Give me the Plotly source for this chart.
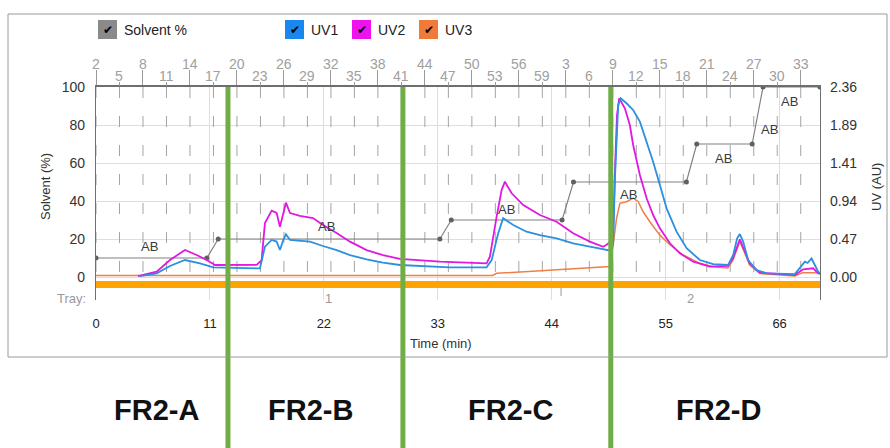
import plotly.graph_objects as go

# ---------------- data ----------------
# Solvent gradient (%), step programme
solv_t = [0, 10.7, 11.8, 33.2, 34.3, 45.0, 46.1, 57.0, 58.0, 63.35, 64.4, 69.9]
solv = [10, 10, 20, 20, 30, 30, 50, 50, 70, 70, 100, 100]

# UV1 absorbance (AU)
uv1_t = [4.25, 5.86, 7.14, 8.59, 10.04, 11.32, 15.51, 15.83, 16.31, 16.96, 17.44, 17.76,
         18.08, 18.34, 18.73, 20.66, 21.91, 23.23, 24.52, 26.13, 27.70, 29.34, 34.17,
         37.71, 38.2, 38.83, 39.31, 40.28, 41.57, 42.86, 44.47, 46.07, 47.68, 49.13,
         49.6, 49.93, 50.1, 50.42, 50.65, 51.22, 51.86, 52.51, 53.16, 53.79, 54.44,
         55.09, 56.05, 57.02, 58.3, 59.58, 61.03, 61.52, 61.90, 62.16, 62.48, 62.96,
         63.77, 64.74, 67.47, 67.95, 68.44, 68.7, 69.08, 69.4, 69.72, 69.9]
uv1 = [0.012, 0.046, 0.137, 0.211, 0.170, 0.120, 0.108, 0.108, 0.376, 0.46, 0.44, 0.335,
       0.46, 0.53, 0.46, 0.44, 0.385, 0.335, 0.273, 0.22, 0.178, 0.149, 0.12,
       0.12, 0.21, 0.543, 0.73, 0.646, 0.563, 0.52, 0.48, 0.419, 0.376, 0.335,
       0.33, 0.40, 1.226, 2.137, 2.22, 2.158, 2.075, 1.93, 1.68, 1.432, 1.143,
       0.853, 0.563, 0.357, 0.211, 0.161, 0.149, 0.273, 0.48, 0.534, 0.44, 0.211,
       0.087, 0.046, 0.037, 0.108, 0.19, 0.174, 0.232, 0.149, 0.066, 0.05]

# UV2 absorbance (AU)
uv2_t = [4.05, 5.86, 7.14, 8.59, 9.72, 10.69, 11.49, 15.51, 15.99, 16.31, 16.96, 17.44,
         17.76, 18.08, 18.34, 18.73, 19.69, 20.95, 21.91, 23.23, 24.52, 26.13, 27.70,
         29.34, 30.96, 33.2, 37.71, 38.03, 38.68, 39.16, 39.48, 40.13, 41.25, 42.86,
         44.47, 46.07, 47.68, 48.97, 49.3, 49.9, 50.14, 50.3, 50.51, 51.06, 51.54,
         51.86, 52.51, 53.16, 53.79, 54.44, 55.41, 56.37, 57.66, 59.27, 61.03, 61.5,
         62.16, 62.6, 63.1, 64.09, 67.47, 68.27, 69.24, 69.72, 69.9]
uv2 = [0.012, 0.066, 0.211, 0.335, 0.273, 0.211, 0.149, 0.15, 0.211, 0.67, 0.824, 0.795,
       0.625, 0.811, 0.923, 0.795, 0.758, 0.733, 0.646, 0.547, 0.439, 0.335, 0.273,
       0.224, 0.211, 0.19, 0.17, 0.252, 0.749, 1.08, 1.184, 1.04, 0.894, 0.77,
       0.687, 0.543, 0.439, 0.376, 0.4, 0.46, 1.45, 2.01, 2.22, 2.096, 1.888,
       1.64, 1.267, 0.978, 0.77, 0.605, 0.419, 0.294, 0.19, 0.128, 0.137, 0.236,
       0.468, 0.335, 0.17, 0.053, 0.025, 0.096, 0.108, 0.046, 0.037]

# UV3 absorbance (AU)
uv3_t = [0, 38.3, 38.68, 49.3, 49.6, 49.93, 50.26, 50.58, 51.22, 51.86, 52.35, 52.83,
         53.47, 54.44, 55.41, 56.69, 58.3, 59.58, 61.0, 61.5, 62.16, 62.6, 63.1,
         64.09, 67.47, 68.2, 69.7, 69.9]
uv3 = [0.02, 0.02, 0.046, 0.128, 0.13, 0.40, 0.73, 0.915, 0.935, 0.98, 0.935, 0.81,
       0.687, 0.52, 0.40, 0.273, 0.17, 0.128, 0.112, 0.21, 0.44, 0.31, 0.149,
       0.043, 0.012, 0.053, 0.053, 0.037]

# "AB" step labels (time, solvent %)
ab_t = [5.2, 22.3, 39.6, 51.4, 60.55, 65.06, 67.0]
ab_y = [16, 26.5, 35.6, 43.2, 62.5, 77.4, 92.3]

# fraction tubes on the top axis
tube_labels = list(range(2, 60, 3)) + list(range(3, 34, 3))
tube_step_min = 2.268          # minutes per 3 tubes

# trays
tray_edges = [0, 44.9, 69.9]
tray_names = ["1", "2"]

# pooled fractions
fr_bounds = [12.74, 29.63, 49.7]
fr_names = ["FR2-A", "FR2-B", "FR2-C", "FR2-D"]
fr_label_t = [5.8, 20.7, 40.0, 60.1]

time_ticks = [0, 11, 22, 33, 44, 55, 66]
solv_ticks = [0, 20, 40, 60, 80, 100]
uv_ticktext = ["0.00", "0.47", "0.94", "1.41", "1.89", "2.36"]
UV_MAX = 2.36

# ---------------- geometry ----------------
W, H = 890, 448
L, R, T, B = 96, 820, 87, 300
X_MAX = 69.9
Y_MIN, Y_MAX = -12.1, 100


def px(x):
    return (x - L) / (R - L)


def py(y):
    return (B - y) / (B - T)


FONT = "Liberation Sans, Arial, sans-serif"
NARROW = "Liberation Sans Narrow, Arial Narrow, Liberation Sans, sans-serif"

C_UV1 = "#2c8fe0"
C_UV2 = "#e018e0"
C_UV3 = "#f08048"
C_SOLV = "#808080"

tube_t = [i * tube_step_min for i in range(len(tube_labels))]
up_idx = list(range(0, len(tube_labels), 2))
lo_idx = list(range(1, len(tube_labels), 2))

fig = go.Figure()

# dashed tick marks through the plot at each tube
dx, dy = [], []
for t in tube_t:
    dx += [t, t, None]
    dy += [100, -1, None]
fig.add_trace(go.Scatter(x=dx, y=dy, mode="lines", hoverinfo="skip", showlegend=False,
                         line=dict(color="#a4a4a4", width=1, dash="11px,18px")))

# solvent step line
fig.add_trace(go.Scatter(x=solv_t, y=solv, mode="lines+markers", name="Solvent %",
                         line=dict(color=C_SOLV, width=1.2),
                         marker=dict(color="#606060", size=5), showlegend=False))

# UV traces on the right axis
fig.add_trace(go.Scatter(x=uv3_t, y=uv3, yaxis="y2", mode="lines", name="UV3",
                         line=dict(color=C_UV3, width=1.5), showlegend=False))
fig.add_trace(go.Scatter(x=uv2_t, y=uv2, yaxis="y2", mode="lines", name="UV2",
                         line=dict(color=C_UV2, width=1.8), showlegend=False))
fig.add_trace(go.Scatter(x=uv1_t, y=uv1, yaxis="y2", mode="lines", name="UV1",
                         line=dict(color=C_UV1, width=1.8), showlegend=False))

# carriers for the two top tick rows
fig.add_trace(go.Scatter(x=[0], y=[0], xaxis="x2", mode="markers", opacity=0,
                         hoverinfo="skip", showlegend=False))
fig.add_trace(go.Scatter(x=[0], y=[0], xaxis="x3", mode="markers", opacity=0,
                         hoverinfo="skip", showlegend=False))

shapes = []
annotations = []


def note(x, y, text, size, color, family=FONT, xref="paper", yref="paper",
         xanchor="center", yanchor="middle", angle=0):
    annotations.append(dict(x=x, y=y, xref=xref, yref=yref, text=text, showarrow=False,
                            xanchor=xanchor, yanchor=yanchor, textangle=angle,
                            font=dict(family=family, size=size, color=color)))


# tube numbers, staggered in two rows
for i in up_idx:
    note(tube_t[i], py(64), str(tube_labels[i]), 14, "#a0a0a0", family=NARROW, xref="x")
for i in lo_idx:
    note(tube_t[i], py(76), str(tube_labels[i]), 14, "#a0a0a0", family=NARROW, xref="x")

# tray bar and tray boundary
shapes.append(dict(type="rect", xref="x", yref="y", x0=tray_edges[0], x1=tray_edges[-1],
                   y0=-5.8, y1=-2.1, fillcolor="#ffa300", line=dict(width=0), layer="above"))
for e in tray_edges[1:-1]:
    shapes.append(dict(type="line", xref="x", yref="y", x0=e, x1=e, y0=-5.8, y1=-10,
                       line=dict(color="#999999", width=1)))
for i, name in enumerate(tray_names):
    note((tray_edges[i] + tray_edges[i + 1]) / 2, py(298), name, 13, "#9a9a9a", xref="x")
note(px(88), py(298), "Tray:", 13, "#9a9a9a", family=NARROW, xanchor="right")

# pooled fraction boundaries
for b in fr_bounds:
    shapes.append(dict(type="line", xref="x", yref="paper", x0=b, x1=b,
                       y0=py(448), y1=1, line=dict(color="#70ad47", width=5), layer="above"))
for t, name in zip(fr_label_t, fr_names):
    note(t, py(410), f"<b>{name}</b>", 29, "#111111", xref="x")

# AB labels
for t, v in zip(ab_t, ab_y):
    note(t, v, "AB", 13, "#3a3a3a", xref="x", yref="y")

# axis titles
note(px(45), py(187), "Solvent (%)", 13, "#333333", angle=-90)
note(px(876), py(187), "UV (AU)", 13, "#333333", angle=-90)
note(px(441), py(343), "Time (min)", 13, "#333333", family=NARROW)

# outer frame
shapes.append(dict(type="rect", xref="paper", yref="paper", x0=px(8), x1=px(887),
                   y0=py(357), y1=py(14), line=dict(color="#9a9a9a", width=1)))

# check-box legend
legend_items = [("Solvent %", "#8a8a8a", 98), ("UV1", "#1a86f0", 285),
                ("UV2", "#ee12ee", 352), ("UV3", "#f07a3a", 419)]
for label, col, x0 in legend_items:
    shapes.append(dict(type="rect", xref="paper", yref="paper", x0=px(x0), x1=px(x0 + 19),
                       y0=py(39), y1=py(20), fillcolor=col, line=dict(width=0)))
    note(px(x0 + 9.5), py(30), "✔", 12, "#000000", family="DejaVu Sans")
    note(px(x0 + 24), py(30), label, 14, "#222222", xanchor="left")

axis_line = "#6e6e6e"
fig.update_layout(
    width=W, height=H,
    margin=dict(l=L, r=W - R, t=T, b=H - B),
    paper_bgcolor="white", plot_bgcolor="white",
    showlegend=False,
    xaxis=dict(range=[0, X_MAX], tickvals=time_ticks, showgrid=True, gridcolor="#dedede",
               gridwidth=1, zeroline=False, showline=False, ticks="",
               ticklabelstandoff=14,
               tickfont=dict(family=NARROW, size=13, color="#222222")),
    xaxis2=dict(range=[0, X_MAX], overlaying="x", side="top", anchor="y",
                tickvals=[tube_t[i] for i in up_idx], showticklabels=False,
                ticks="outside", ticklen=15, tickcolor="#9a9a9a", tickwidth=1,
                showline=True, linecolor=axis_line, linewidth=1.5,
                showgrid=False, zeroline=False),
    xaxis3=dict(range=[0, X_MAX], overlaying="x", side="top", anchor="y",
                tickvals=[tube_t[i] for i in lo_idx], showticklabels=False,
                ticks="outside", ticklen=4, tickcolor="#9a9a9a", tickwidth=1,
                showline=False, showgrid=False, zeroline=False),
    yaxis=dict(range=[Y_MIN, Y_MAX], tickvals=solv_ticks, showgrid=True,
               gridcolor="#dedede", zeroline=False, showline=True, linecolor=axis_line,
               linewidth=1.2, ticks="", ticklabelstandoff=7,
               tickfont=dict(family=FONT, size=14, color="#333333")),
    yaxis2=dict(range=[Y_MIN / 100 * UV_MAX, UV_MAX], overlaying="y", side="right",
                tickvals=[UV_MAX * k / 5 for k in range(6)], ticktext=uv_ticktext,
                showgrid=False, zeroline=False, showline=True, linecolor=axis_line,
                linewidth=1.2, ticks="", ticklabelstandoff=6,
                tickfont=dict(family=FONT, size=14, color="#333333")),
    shapes=shapes,
    annotations=annotations,
)

fig.write_html("out.html")
